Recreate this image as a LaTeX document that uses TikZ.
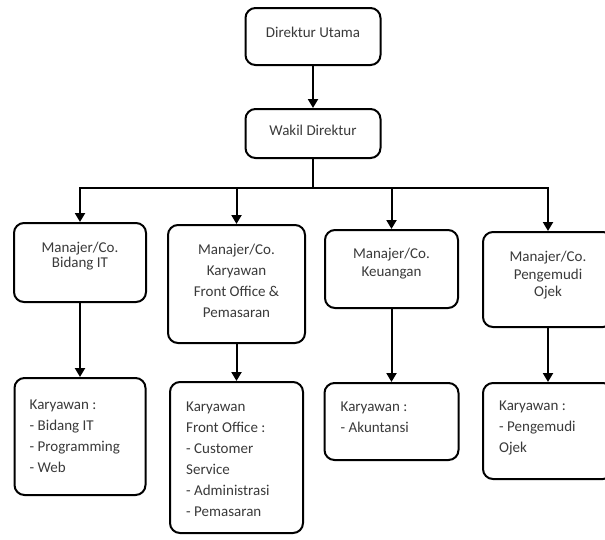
\documentclass[tikz,border=0pt]{standalone}
\usepackage{fontspec}
\setmainfont{Carlito}
\usetikzlibrary{arrows.meta,positioning}
\definecolor{OrgInk}{HTML}{000000}
\definecolor{OrgText}{HTML}{3A3A3A}
\tikzset{
  orgbox/.style={
    draw=OrgInk,
    line width=2pt,
    rounded corners=10pt,
    fill=white,
    inner sep=0pt
  },
  orghead/.style={
    text=OrgText,
    align=center,
    inner sep=0pt,
    font=\fontsize{15}{#1}\selectfont
  },
  orglist/.style={
    text=OrgText,
    align=left,
    inner sep=0pt,
    anchor=north west,
    font=\fontsize{15}{21}\selectfont
  },
  orgarrow/.style={-{Triangle[length=9pt,width=10pt]},line width=2pt,draw=OrgInk}
}

\begin{document}
\begin{tikzpicture}[x=1pt,y=-1pt,node distance=20pt]
        \useasboundingbox (0,0) rectangle (605,539);
        \clip (0,0) rectangle (605,539);
        \node[orgbox,minimum width=135pt,minimum height=57pt] (dirut) at (313,36.5) {};
        \node[orghead=18,below=of dirut.north] (diruttxt) {Direktur Utama};
        \node[orgbox,minimum width=135pt,minimum height=49pt] (wakil) at (313,133.5) {};
        \node[orghead=18,below=17pt of wakil.north] (wakiltxt) {Wakil Direktur};
        \node[orgbox,minimum width=132pt,minimum height=79pt] (mgrit) at (80,262.5) {};
        \node[orghead=15,below=of mgrit.north] (mgrittxt) {Manajer/Co.\\Bidang IT};
        \node[orgbox,minimum width=137pt,minimum height=118pt] (mgrfo) at (236.5,284) {};
        \node[orghead=21,below=of mgrfo.north] (mgrfotxt) {Manajer/Co.\\Karyawan\\Front Office \&\\Pemasaran};
        \node[orgbox,minimum width=133pt,minimum height=78pt] (mgrkeu) at (391.5,269) {};
        \node[orghead=18,below=19pt of mgrkeu.north] (mgrkeutxt) {Manajer/Co.\\Keuangan};
        \node[orgbox,minimum width=130pt,minimum height=95pt] (mgrojek) at (548,279.5) {};
        \node[orghead=17.5,below=of mgrojek.north] (mgrojektxt) {Manajer/Co.\\Pengemudi\\Ojek};
        \node[orgbox,minimum width=131pt,minimum height=117pt] (kryit) at (80,436.5) {};
        \node[orglist] (kryittxt) at ([shift={(16,23)}]kryit.north west) {Karyawan :\\- Bidang IT\\- Programming\\- Web};
        \node[orgbox,minimum width=133pt,minimum height=151pt] (kryfo) at (236.5,457.5) {};
        \node[orglist] (kryfotxt) at ([shift={(17,21)}]kryfo.north west) {Karyawan\\Front Office :\\- Customer\\Service\\- Administrasi\\- Pemasaran};
        \node[orgbox,minimum width=134pt,minimum height=77pt] (krykeu) at (391.5,421.5) {};
        \node[orglist] (krykeutxt) at ([shift={(17,20)}]krykeu.north west) {Karyawan :\\- Akuntansi};
        \node[orgbox,minimum width=130pt,minimum height=96pt] (kryojek) at (548,431) {};
        \node[orglist] (kryojektxt) at ([shift={(17,19)}]kryojek.north west) {Karyawan :\\- Pengemudi\\Ojek};
        \draw[orgarrow] (dirut) -- (wakil);
        \draw[orgarrow] (wakil.south) -- ++(0,29) -| (mgrit.north);
        \draw[orgarrow] (wakil.south) -- ++(0,29) -| (mgrfo.north);
        \draw[orgarrow] (wakil.south) -- ++(0,29) -| (mgrkeu.north);
        \draw[orgarrow] (wakil.south) -- ++(0,29) -| (mgrojek.north);
        \draw[orgarrow] (mgrit) -- (kryit);
        \draw[orgarrow] (mgrfo) -- (kryfo);
        \draw[orgarrow] (mgrkeu) -- (krykeu);
        \draw[orgarrow] (mgrojek) -- (kryojek);
      \end{tikzpicture}
\end{document}
